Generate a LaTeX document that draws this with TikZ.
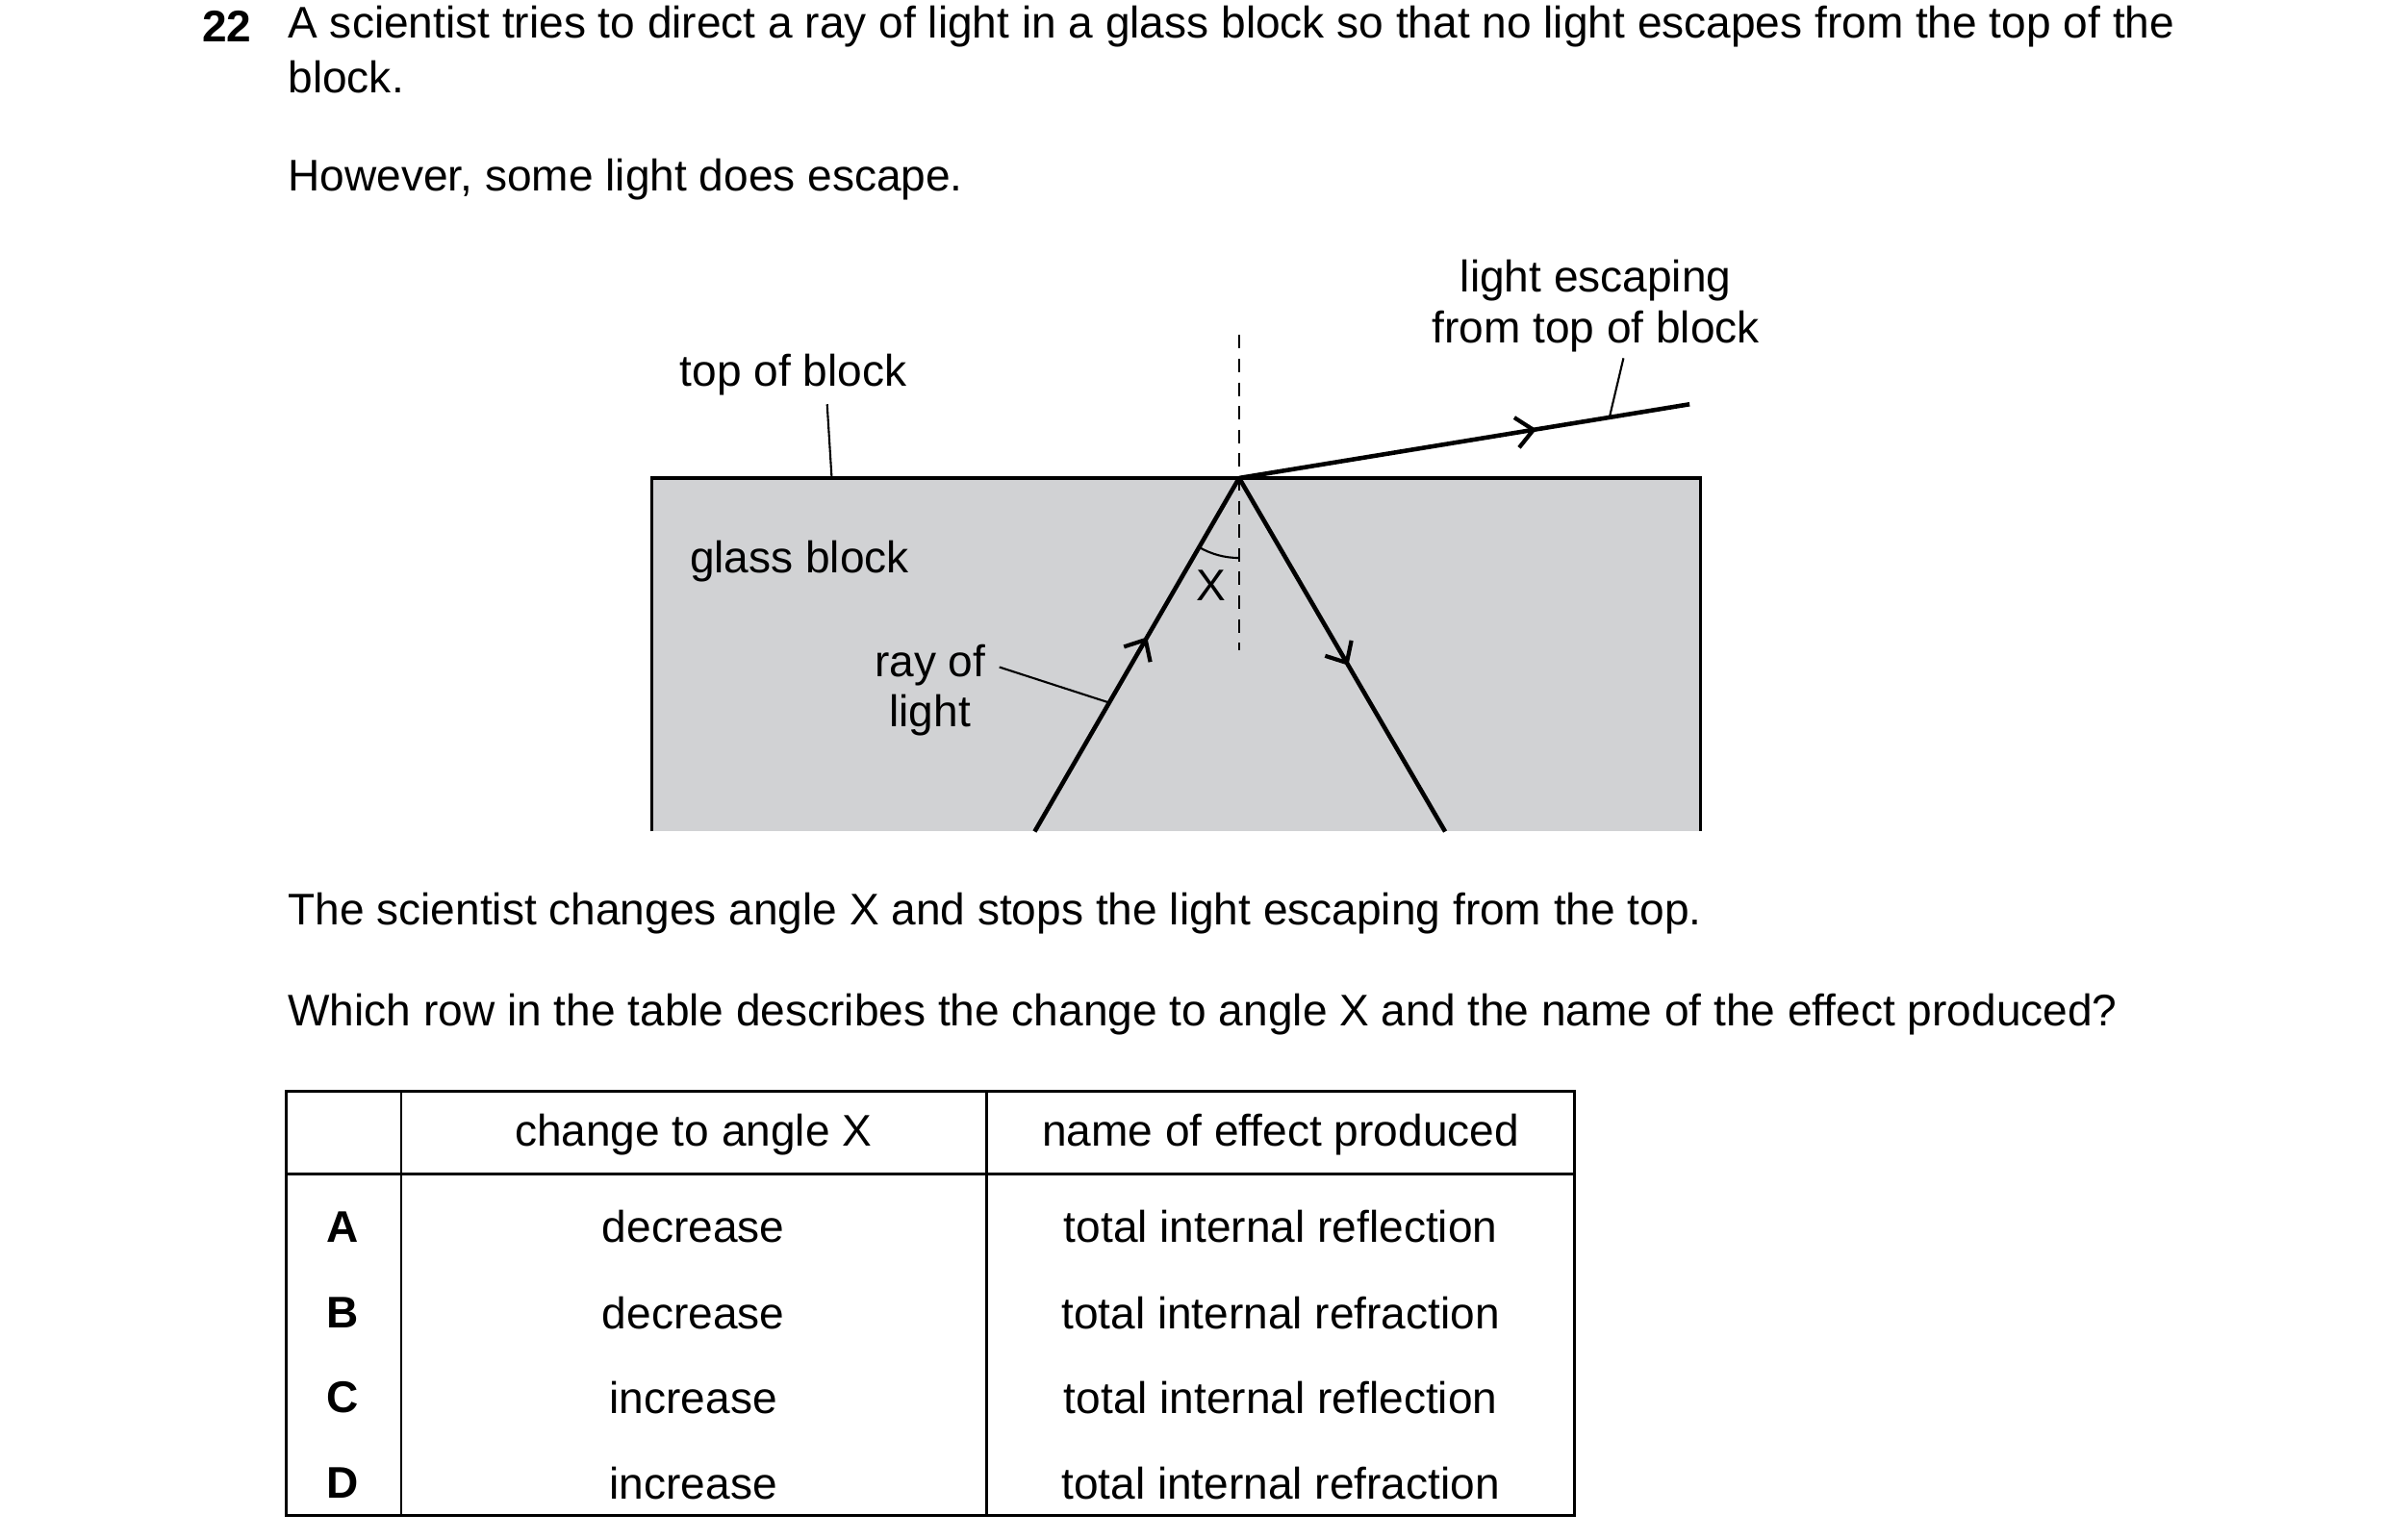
\documentclass[tikz,border=0pt]{standalone}
\usepackage{fontspec}
\setmainfont{Liberation Sans}
\usetikzlibrary{arrows.meta,decorations.markings}
\begin{document}
\begin{tikzpicture}[x=0.01598cm,y=-0.01598cm,
  txt/.style={inner sep=0pt,font=\fontsize{13.1}{15}\selectfont},
  lt/.style={txt,anchor=west},
  ray/.style={line width=1.3pt,postaction={decorate},decoration={markings,mark=at position #1 with {\arrow{Straight Barb[length=5pt,width=9pt,line width=1.2pt]}}}},
  lead/.style={line width=0.6pt}]
\useasboundingbox (0,0) rectangle (1552,1001.3);
% question text
\node[lt,font=\fontsize{13.1}{15}\selectfont\bfseries] (num) at (131,17) {22};
\node[lt] (q1) at (187,17) {A scientist tries to direct a ray of light in a glass block so that no light escapes from the top of the};
\node[lt] (q2) at (187,50) {block.};
\node[lt] (q3) at (187,117) {However, some light does escape.};
% block
\fill[fill={rgb,255:red,209;green,210;blue,212}] (424,311) rectangle (1106,541);
\draw[line width=1pt] (424,541) -- (424,311) -- (1106,311) -- (1106,541);
\coordinate (P) at (806,311);
\coordinate (Ntop) at (806,218);
\coordinate (Nbot) at (806,423);
\draw[dashed,line width=0.6pt,dash pattern=on 4pt off 3pt] (Ntop) -- (Nbot);
\coordinate (Iin) at (673,541);
\coordinate (Rout) at (940,541);
\coordinate (Eout) at (1099,263);
\draw[ray=0.55] (Iin) -- (P);
\draw[ray=0.53] (P) -- (Rout);
\draw[ray=0.66] (P) -- (Eout);
% angle arc
\draw[line width=0.6pt] (P) ++(120:52) arc (120:90:52);
\node[txt] (X) at (788,381) {X};
% labels
\node[txt] (top) at (516,244) {top of block};
\coordinate (topA) at (538,263);
\coordinate (topB) at (541,311);
\draw[lead] (topA) -- (topB);
\node[txt] (gb) at (520,365) {glass block};
\node[txt,align=center] (ray) at (605,449) {ray of\\[0pt]light};
\coordinate (rayA) at (650,434);
\coordinate (rayB) at (721,457);
\draw[lead] (rayA) -- (rayB);
\node[txt,align=center] (esc) at (1038,199) {light escaping\\[0pt]from top of block};
\coordinate (escA) at (1056,233);
\coordinate (escB) at (1047,271);
\draw[lead] (escA) -- (escB);
% further text
\node[lt] (q4) at (187,594) {The scientist changes angle X and stops the light escaping from the top.};
\node[lt] (q5) at (187,660) {Which row in the table describes the change to angle X and the name of the effect produced?};
% table
\draw[line width=0.8pt] (186,710) rectangle (1024,986);
\draw[line width=0.8pt] (186,764) -- (1024,764);
\draw[line width=0.8pt] (261,710) -- (261,986);
\draw[line width=0.8pt] (642,710) -- (642,986);
\node[txt] (h1) at (451,738) {change to angle X};
\node[txt] (h2) at (833,738) {name of effect produced};
\foreach \l/\c/\e/\y in {A/decrease/total internal reflection/798,B/decrease/total internal refraction/854,C/increase/total internal reflection/909,D/increase/total internal refraction/965}{
  \node[txt,font=\fontsize{13.1}{15}\selectfont\bfseries] at (223,\y) {\l};
  \node[txt] at (451,\y) {\c};
  \node[txt] at (833,\y) {\e};
}
\end{tikzpicture}
\end{document}
